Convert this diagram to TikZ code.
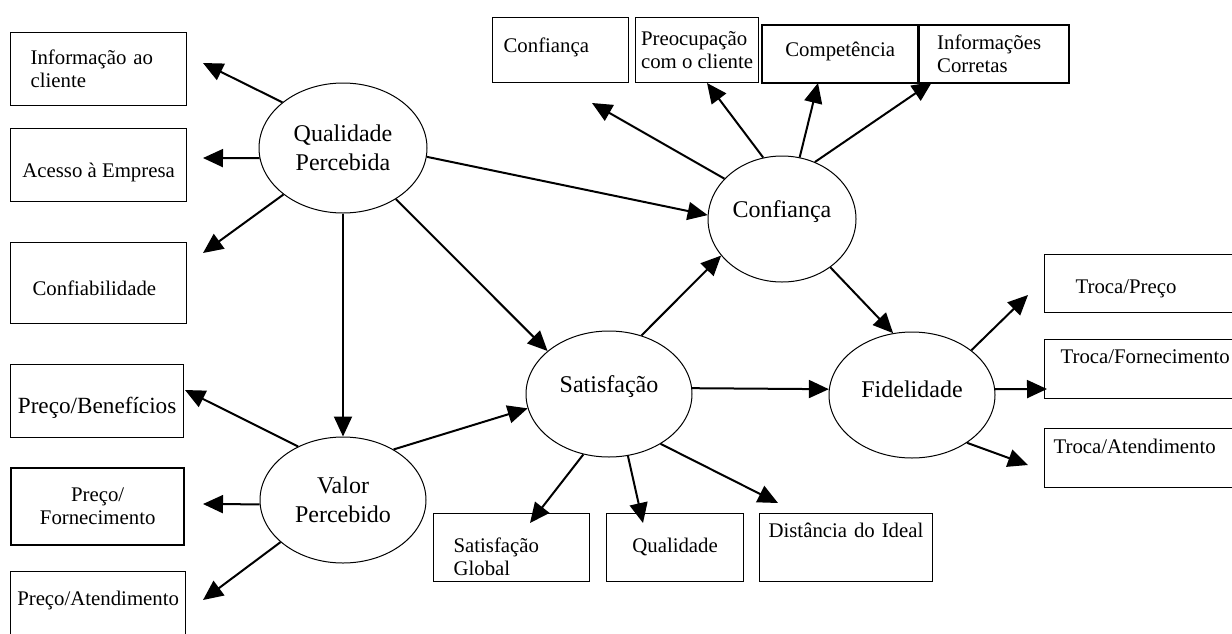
\documentclass[tikz,border=0pt]{standalone}
\usepackage{fontspec}
\setmainfont{Liberation Serif}
\usetikzlibrary{arrows.meta,shapes.geometric}

\begin{document}
\begin{tikzpicture}[x=0.5pt,y=-0.5pt,>={Triangle[length=10pt,width=9pt]},
  lat/.style={draw,ellipse,line width=0.5pt,inner sep=0pt,align=center,font=\fontsize{12}{14.5}\selectfont},
  box/.style={draw,line width=0.6pt,anchor=north west,inner ysep=0pt,font=\fontsize{10.4}{11.5}\selectfont},
  heavy/.style={line width=1.2pt},
  arr/.style={->,line width=1pt}]
  \clip (0,0) rectangle (1232,633);
  \useasboundingbox (0,0) rectangle (1232,633);

  \node[lat,minimum width=84pt,minimum height=65pt] (qp) at (343,148) {Qualidade\\Percebida};
  \node[lat,minimum width=83pt,minimum height=63pt] (vp) at (343,500) {Valor\\Percebido};
  \node[lat,minimum width=83pt,minimum height=63pt,text height=8pt,text depth=10pt] (sat) at (609,394) {Satisfação};
  \node[lat,minimum width=74pt,minimum height=63pt,text height=8pt,text depth=10pt] (conf) at (782,219) {Confiança};
  \node[lat,minimum width=83pt,minimum height=63pt,text height=8pt,text depth=6pt] (fid) at (912,395) {Fidelidade};

  \node[box,inner xsep=10pt,text width=68pt,minimum height=36.5pt,align=left] (info) at (10,32) {Informação ao\\cliente};
  \node[box,minimum width=88pt,minimum height=36.5pt,text height=12.5pt,text depth=0pt] (acesso) at (10,128) {Acesso à Empresa};
  \node[box,inner xsep=11pt,text width=66pt,minimum height=40.5pt,align=left,text height=12.5pt,text depth=0pt] (confiab) at (10,242) {Confiabilidade};
  \node[box,minimum width=86.5pt,minimum height=36.5pt,font=\fontsize{11.6}{13}\selectfont,text height=14pt,text depth=1.5pt] (benef) at (10,364) {Preço/Benefícios};
  \node[box,heavy,minimum width=86.5pt,minimum height=38.5pt,align=center] (pforn) at (10,467) {Preço/\\Fornecimento};
  \node[box,minimum width=86.5pt,minimum height=34.5pt,text height=8pt,text depth=8.5pt] (paten) at (10,571) {Preço/Atendimento};

  \node[box,inner xsep=5.5pt,text width=57pt,minimum height=32.5pt,align=left,text height=8pt,text depth=5.5pt] (bconf) at (492,17) {Confiança};
  \node[box,inner xsep=2pt,minimum width=61.5pt,minimum height=32.5pt,align=left] (preoc) at (635,17) {Preocupação\\com o cliente};
  \node[box,heavy,minimum width=78pt,minimum height=29pt,text height=8pt,text depth=6pt] (compet) at (761,24) {Competência};
  \node[box,heavy,inner xsep=9pt,text width=57pt,minimum height=29pt,align=left] (infcor) at (918,24) {Informações\\Corretas};

  \node[box,inner xsep=10pt,text width=58pt,minimum height=34pt,align=left,text height=16.5pt,text depth=11.5pt] (sglob) at (433,513) {Satisfação\\Global};
  \node[box,minimum width=68.5pt,minimum height=34pt,text height=8pt,text depth=3pt] (qual) at (606,513) {Qualidade};
  \node[box,inner xsep=4.5pt,text width=77.5pt,minimum height=34pt,align=left,text height=8pt,text depth=18pt] (dist) at (759,513) {Distância do Ideal};

  \node[box,inner xsep=15.5pt,text width=69pt,minimum height=29pt,align=left,text height=11pt,text depth=1pt] (tpreco) at (1044,254) {Troca/Preço};
  \node[box,inner xsep=8pt,text width=84pt,minimum height=29.5pt,align=left,text height=8pt,text depth=13.5pt] (tforn) at (1044,339) {Troca/Fornecimento};
  \node[box,inner xsep=4.5pt,text width=91pt,minimum height=29.5pt,align=left,text height=8pt,text depth=12.5pt] (taten) at (1044,428) {Troca/Atendimento};

  \coordinate (toInfo) at (203,63);
  \coordinate (toAcesso) at (203,158);
  \coordinate (toConfiab) at (203,253);
  \coordinate (toBenef) at (185,390);
  \coordinate (toPforn) at (203,504);
  \coordinate (toPaten) at (203,600);
  \coordinate (toSglob) at (530,523);
  \coordinate (toQual) at (643,523);
  \coordinate (toDist) at (778,503);
  \coordinate (toBconf) at (592,103);
  \coordinate (toPreoc) at (707,83);
  \coordinate (toCompet) at (818,83);
  \coordinate (toInfcor) at (932,82);
  \coordinate (toTpreco) at (1028,295);
  \coordinate (toTforn) at (1047,389);
  \coordinate (toTaten) at (1028,465);

  \draw[arr] (qp.143) -- (toInfo);
  \draw[arr] (qp.187) -- (toAcesso);
  \draw[arr] (qp.218) -- (toConfiab);
  \draw[arr] (qp) -- (vp);
  \draw[arr] (qp.-44) -- (sat.145);
  \draw[arr] (qp.-6) -- (conf.177);

  \draw[arr] (vp.130) -- (toBenef);
  \draw[arr] (vp.183) -- (toPforn);
  \draw[arr] (vp.214) -- (toPaten);
  \draw[arr] (vp.45) -- (sat.190);

  \draw[arr] (sat.61) -- (conf.211);
  \draw[arr] (sat.4) -- (fid.176);
  \draw[arr] (sat.247) -- (toSglob);
  \draw[arr] (sat.287) -- (toQual);
  \draw[arr] (sat.316) -- (toDist);

  \draw[arr] (conf.145) -- (toBconf);
  \draw[arr] (conf.107) -- (toPreoc);
  \draw[arr] (conf.74) -- (toCompet);
  \draw[arr] (conf.60) -- (toInfcor);
  \draw[arr] (conf.-45) -- (fid.107);

  \draw[arr] (fid.37) -- (toTpreco);
  \draw[arr] (fid.4) -- (toTforn);
  \draw[arr] (fid.-41) -- (toTaten);
\end{tikzpicture}
\end{document}
